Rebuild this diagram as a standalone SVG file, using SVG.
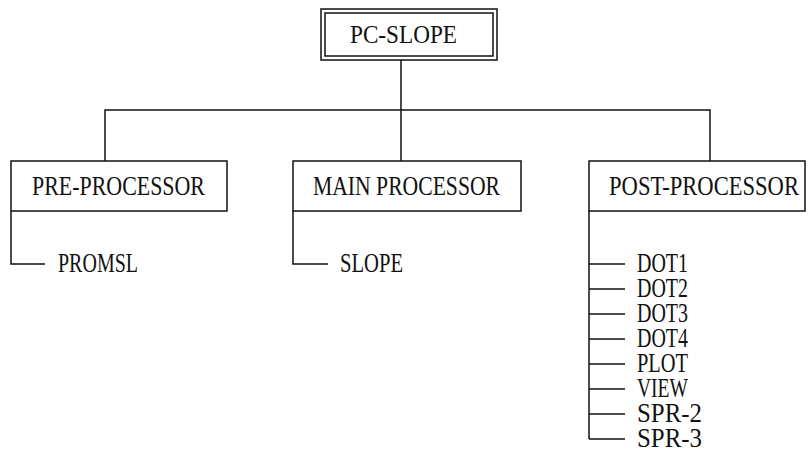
<svg xmlns="http://www.w3.org/2000/svg" width="808" height="452" viewBox="0 0 808 452">
<style>
.box{fill:none;stroke:#111;stroke-width:1.5}
.ln{fill:none;stroke:#111;stroke-width:1.5}
text{font-family:"Liberation Serif","Times New Roman",serif;fill:#111;font-size:27px}
</style>
<rect width="808" height="452" fill="#fff"/>
<g id="connectors">
<path class="ln" d="M401,60 V161"/>
<path class="ln" d="M105,161 V110 H710 V161"/>
<path class="ln" d="M11,211 V264 H45"/>
<path class="ln" d="M293,211 V264 H328"/>
<path class="ln" d="M589,211 V439"/>
<path class="ln" d="M589,264 H625 M589,289 H625 M589,314 H625 M589,339 H625 M589,364 H625 M589,389 H625 M589,414 H625 M589,439 H625"/>
</g>
<g id="pc-slope">
<rect class="box" x="321" y="9" width="176" height="51"/>
<rect class="box" x="325" y="13" width="168" height="43"/>
<text x="350" y="43" font-size="25" textLength="107" lengthAdjust="spacingAndGlyphs" style="font-size:25px">PC-SLOPE</text>
</g>
<g id="pre-processor">
<rect class="box" x="11" y="161" width="216" height="50"/>
<text x="32" y="195" textLength="173" lengthAdjust="spacingAndGlyphs">PRE-PROCESSOR</text>
</g>
<g id="main-processor">
<rect class="box" x="293" y="161" width="228" height="50"/>
<text x="313" y="195" textLength="187" lengthAdjust="spacingAndGlyphs">MAIN PROCESSOR</text>
</g>
<g id="post-processor">
<rect class="box" x="589" y="161" width="216" height="50"/>
<text x="609" y="195" textLength="190" lengthAdjust="spacingAndGlyphs">POST-PROCESSOR</text>
</g>
<g id="promsl"><text x="58" y="272" textLength="80" lengthAdjust="spacingAndGlyphs">PROMSL</text></g>
<g id="slope"><text x="340" y="272" textLength="63" lengthAdjust="spacingAndGlyphs">SLOPE</text></g>
<g id="dot1"><text x="637" y="272" textLength="51" lengthAdjust="spacingAndGlyphs">DOT1</text></g>
<g id="dot2"><text x="637" y="297" textLength="51" lengthAdjust="spacingAndGlyphs">DOT2</text></g>
<g id="dot3"><text x="637" y="322" textLength="51" lengthAdjust="spacingAndGlyphs">DOT3</text></g>
<g id="dot4"><text x="637" y="347" textLength="51" lengthAdjust="spacingAndGlyphs">DOT4</text></g>
<g id="plot"><text x="637" y="372" textLength="51" lengthAdjust="spacingAndGlyphs">PLOT</text></g>
<g id="view"><text x="637" y="397" textLength="51" lengthAdjust="spacingAndGlyphs">VIEW</text></g>
<g id="spr-2"><text x="637" y="422" textLength="65" lengthAdjust="spacingAndGlyphs">SPR-2</text></g>
<g id="spr-3"><text x="637" y="447" textLength="65" lengthAdjust="spacingAndGlyphs">SPR-3</text></g>
</svg>
